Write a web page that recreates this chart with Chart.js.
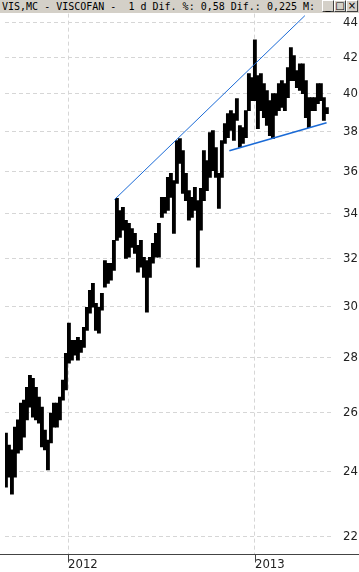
<!DOCTYPE html>
<html lang="es">
<head>
  <meta charset="UTF-8">
  <title>VIS.MC - VISCOFAN</title>
  <style>
    body {
      margin: 0;
      padding: 0;
      background: #fff;
      width: 359px;
      height: 572px;
      overflow: hidden;
      position: relative;
    }

    .titlebar {
      position: absolute;
      left: 0;
      top: 0;
      width: 359px;
      height: 13px;
      background: #d4d0c8;
      font-family: "DejaVu Sans Mono", monospace;
      font-size: 10px;
      line-height: 13px;
      color: #000;
      white-space: pre;
    }

    .titlebar .text {
      position: absolute;
      left: 2px;
      top: 0;
    }

    .btn {
      position: absolute;
      top: 0;
      width: 10px;
      height: 10px;
      background: #d4d0c8;
      border-top: 1px solid #fff;
      border-left: 1px solid #fff;
      border-right: 1px solid #404040;
      border-bottom: 1px solid #404040;
      font-family: "DejaVu Sans", sans-serif;
      font-size: 10px;
      line-height: 10px;
      text-align: center;
      color: #000;
    }

    #chart {
      position: absolute;
      left: 0;
      top: 13px;
    }
  </style>
</head>
<body>
  <div class="titlebar">
    <span class="text">VIS,MC - VISCOFAN -  1 d Dif. %: 0,58 Dif.: 0,225 M:</span>
    <span class="btn" style="left:322px">_</span>
    <span class="btn" style="left:334px">□</span>
    <span class="btn" style="left:346px">×</span>
  </div>
  <canvas id="chart" width="359" height="559"></canvas>

  <script src="https://cdn.jsdelivr.net/npm/chart.js"></script>
  <script>
    // tick labels
    const yearTicks = [2012, 2013];
    const priceTicks = [22, 24, 26, 28, 30, 32, 34, 36, 38, 40, 42, 44];

    // price bars (high / low), roughly every 6 days from early Sep 2011
    const firstBar = 2011.668;
    const barStep = 0.016043;
    const highs = [
      25.29, 24.88, 24.72, 25.49, 25.74, 26.33, 26.44, 26.90, 27.34, 27.23,
      26.90, 26.55, 26.19, 25.39, 25.05, 25.98, 26.33, 26.33, 26.55, 27.16,
      28.16, 29.33, 28.66, 28.66, 28.78, 28.66, 29.17, 29.97, 30.66, 30.95,
      30.13, 29.97, 30.54, 31.92, 31.80, 31.80, 32.80, 34.71, 34.15, 34.29,
      33.70, 33.56, 33.33, 33.11, 32.58, 32.80, 32.06, 31.92, 32.06, 32.67,
      33.11, 33.56, 34.76, 34.76, 35.71, 35.90, 35.56, 37.53, 37.63, 37.03,
      35.90, 35.08, 34.76, 35.23, 34.61, 35.18, 37.03, 36.53, 37.94, 38.04,
      37.18, 35.90, 37.53, 38.40, 38.92, 39.08, 38.92, 39.72, 38.30, 38.19,
      39.08, 41.08, 40.86, 43.00, 40.97, 41.08, 40.53, 40.15, 39.61, 39.98,
      39.98, 40.53, 40.69, 40.53, 41.41, 42.54, 42.09, 41.24, 41.63, 41.63,
      40.69, 39.77, 39.77, 39.77, 40.53, 40.53, 39.77, 39.24
    ];
    const lows = [
      23.51, 23.83, 23.29, 23.83, 24.61, 24.72, 25.15, 25.74, 26.19, 25.84,
      25.74, 25.63, 24.82, 24.72, 24.06, 24.95, 25.49, 25.49, 25.74, 26.44,
      26.80, 27.79, 27.90, 28.09, 27.90, 28.20, 28.39, 29.05, 29.73, 29.97,
      29.05, 28.94, 29.85, 30.79, 30.95, 31.08, 31.50, 32.80, 32.93, 33.25,
      32.01, 32.06, 32.49, 32.23, 31.42, 31.63, 31.20, 29.77, 31.20, 31.80,
      32.06, 32.06, 33.83, 34.02, 34.15, 34.76, 33.11, 35.42, 36.39, 34.94,
      34.61, 33.70, 33.83, 34.15, 31.63, 33.25, 34.61, 35.08, 35.71, 36.04,
      35.71, 34.24, 35.71, 37.38, 37.68, 38.04, 37.53, 38.56, 37.18, 37.38,
      37.68, 39.08, 39.61, 39.61, 38.14, 39.08, 38.71, 38.30, 37.78, 37.63,
      38.82, 39.08, 39.24, 39.08, 39.77, 40.69, 40.69, 40.31, 40.15, 39.98,
      38.71, 38.19, 39.08, 39.08, 39.45, 39.61, 38.56, 38.92
    ];

    // trend lines
    const upperTrendX = [2012.248, 2013.267];
    const upperTrendY = [34.65, 44.42];
    const lowerTrendX = [2012.863, 2013.383];
    const lowerTrendY = [37.02, 38.44];

    const bars = highs.map((h, i) => ({ x: firstBar + i * barStep, y: [lows[i], h] }));
    const upper = upperTrendX.map((x, i) => ({ x: x, y: upperTrendY[i] }));
    const lower = lowerTrendX.map((x, i) => ({ x: x, y: lowerTrendY[i] }));

    const fontFamily = "'Liberation Sans Narrow', 'DejaVu Sans Condensed', sans-serif";

    const axisLine = {
      id: 'axisLine',
      afterDraw(chart) {
        const ctx = chart.ctx;
        const xs = chart.scales.x;
        const y = Math.round(chart.chartArea.bottom) + 0.5;
        ctx.save();
        ctx.strokeStyle = '#444';
        ctx.lineWidth = 1;
        ctx.beginPath();
        ctx.moveTo(0, y);
        ctx.lineTo(chart.width, y);
        yearTicks.forEach(t => {
          const px = Math.round(xs.getPixelForValue(t)) + 0.5;
          ctx.moveTo(px, y);
          ctx.lineTo(px, y + 8);
        });
        ctx.stroke();
        ctx.restore();
      }
    };

    new Chart(document.getElementById('chart').getContext('2d'), {
      data: {
        datasets: [
          {
            type: 'bar',
            data: bars,
            backgroundColor: '#000',
            borderWidth: 0,
            barThickness: 3.2,
            order: 2
          },
          {
            type: 'line',
            data: upper,
            borderColor: '#1a6ad6',
            borderWidth: 1,
            pointRadius: 0,
            fill: false,
            order: 1
          },
          {
            type: 'line',
            data: lower,
            borderColor: '#1a6ad6',
            borderWidth: 1.5,
            pointRadius: 0,
            fill: false,
            order: 1
          }
        ]
      },
      options: {
        responsive: false,
        animation: false,
        devicePixelRatio: 1,
        layout: { padding: { left: 5, top: 0, right: 0, bottom: 0 } },
        plugins: {
          legend: { display: false },
          tooltip: { enabled: false }
        },
        scales: {
          x: {
            type: 'linear',
            offset: false,
            min: 2011.663,
            max: 2013.412,
            afterBuildTicks: s => { s.ticks = yearTicks.map(v => ({ value: v })); },
            afterFit: s => { s.height = 18; },
            grid: {
              offset: false,
              color: '#d6d6d6',
              drawTicks: false
            },
            border: { display: false, dash: [4, 3] },
            ticks: {
              align: 'start',
              padding: 3,
              color: '#222',
              font: { family: fontFamily, size: 13 },
              callback: v => String(v)
            }
          },
          y: {
            type: 'logarithmic',
            position: 'right',
            min: 21.48,
            max: 44.54,
            afterBuildTicks: s => { s.ticks = priceTicks.map(v => ({ value: v })); },
            afterFit: s => { s.width = 27; },
            grid: {
              color: '#d6d6d6',
              drawTicks: true,
              tickLength: 11,
              tickColor: 'rgba(0,0,0,0)'
            },
            border: { display: false, dash: [4, 3] },
            ticks: {
              padding: 0,
              color: '#222',
              font: { family: fontFamily, size: 13, lineHeight: 0.1 },
              callback: v => String(v)
            }
          }
        }
      },
      plugins: [axisLine]
    });
  </script>
</body>
</html>
